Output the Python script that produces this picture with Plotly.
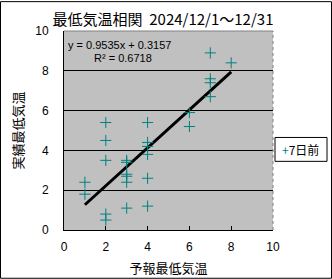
import plotly.graph_objects as go

# Data (forecast min temp vs actual min temp), Dec 1-31 2024
forecast = [1, 1, 2, 2, 2, 2, 2, 3, 3, 3, 3, 3, 3, 4, 4, 4, 4, 4, 4, 6, 6, 7, 7, 7, 7, 8]
actual = [2.4, 1.8, 5.4, 4.5, 3.5, 0.8, 0.5, 3.5, 3.4, 2.8, 2.7, 2.4, 1.1,
          5.4, 4.4, 4.2, 3.8, 2.6, 1.2, 5.9, 5.2, 8.9, 7.6, 7.4, 6.7, 8.4]
slope = 0.9535
intercept = 0.3157
r2 = 0.6718
series_name = "+7日前"
title_text = "最低気温相関  2024/12/1～12/31"
x_title = "予報最低気温"
y_title = "実績最低気温"
tick_vals = [0, 2, 4, 6, 8, 10]

FONT = "Noto Sans CJK JP"
TICKFONT = "Liberation Sans"

xmin, xmax = min(forecast), max(forecast)
trend_x = [xmin, xmax]
trend_y = [slope * v + intercept for v in trend_x]

fig = go.Figure()
fig.add_trace(go.Scatter(
    x=trend_x, y=trend_y, mode="lines",
    line=dict(color="black", width=3), showlegend=False, hoverinfo="skip"))
fig.add_trace(go.Scatter(
    x=forecast, y=actual, mode="markers", name="7日前",
    marker=dict(symbol="cross-thin", size=8, line=dict(color="#008080", width=1), color="#008080"),
    showlegend=False))

axis_common = dict(
    range=[0, 10], tickvals=tick_vals, ticks="inside", ticklen=4, tickcolor="black",
    tickfont=dict(family=TICKFONT, size=12, color="black"), showline=True, linecolor="black",
    linewidth=1, zeroline=False, fixedrange=True, automargin=False,
)
fig.update_xaxes(**axis_common, showgrid=False, ticklabelstandoff=6,
                 title=dict(text=x_title, font=dict(family=FONT, size=13, color="black"), standoff=10))
fig.update_yaxes(**axis_common, showgrid=True, gridcolor="black", gridwidth=1, ticklabelstandoff=12,
                 title=dict(text=y_title, font=dict(family=FONT, size=13, color="black"), standoff=8))

# right and top plot borders (grey)
fig.add_shape(type="line", xref="paper", yref="paper", x0=1, x1=1, y0=0, y1=1,
              line=dict(color="#808080", width=1, dash="dot"))
fig.add_shape(type="line", xref="paper", yref="paper", x0=0, x1=1, y0=1, y1=1,
              line=dict(color="#808080", width=1))
# outer chart border
fig.add_shape(type="rect", xref="paper", yref="paper",
              x0=-0.3038, x1=1.2799, y0=-0.2425, y1=1.1475,
              line=dict(color="black", width=1))
# legend box
fig.add_shape(type="rect", xref="paper", yref="paper",
              x0=(275 - 64) / 209, x1=(327 - 64) / 209,
              y0=(230 - 161) / 200, y1=(230 - 137) / 200,
              line=dict(color="black", width=1), fillcolor="white")
fig.add_annotation(xref="paper", yref="paper", x=(280 - 64) / 209, y=(230 - 149) / 200,
                   xanchor="left", yanchor="middle", showarrow=False,
                   text="<span style='color:#008080'>+</span>" + series_name[1:],
                   font=dict(family=FONT, size=12, color="black"))

# equation annotation
fig.add_annotation(xref="paper", yref="paper", x=(66 - 64) / 209, y=(230 - 44) / 200,
                   xanchor="left", yanchor="middle", showarrow=False,
                   text=f"y = {slope}x + {intercept}",
                   font=dict(family="Liberation Sans Narrow, Liberation Sans", size=11, color="black"))
fig.add_annotation(xref="paper", yref="paper", x=(92 - 64) / 209, y=(230 - 57) / 200,
                   xanchor="left", yanchor="middle", showarrow=False,
                   text=f"R² = {r2}",
                   font=dict(family="Liberation Sans Narrow, Liberation Sans", size=11, color="black"))

fig.update_layout(
    width=332, height=279,
    margin=dict(l=64, r=59, t=31, b=49),
    paper_bgcolor="white", plot_bgcolor="#C0C0C0",
    title=dict(text=title_text, x=163 / 332, xanchor="center", y=1 - 20 / 279, yanchor="middle",
               font=dict(family=FONT, size=15, color="black")),
    showlegend=False,
)

fig.write_html("out.html")
